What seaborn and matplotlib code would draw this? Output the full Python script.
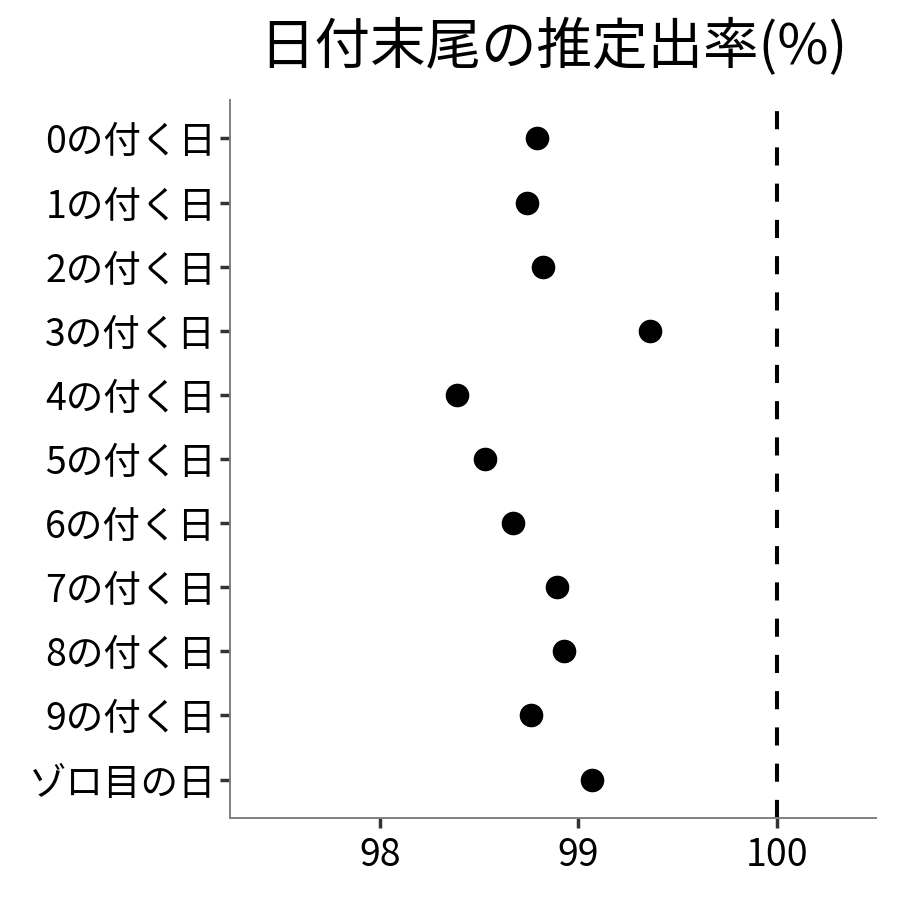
import matplotlib
matplotlib.use("Agg")
import matplotlib.pyplot as plt
import seaborn as sns
import pandas as pd

# data
labels = ["0の付く日", "1の付く日", "2の付く日", "3の付く日", "4の付く日",
          "5の付く日", "6の付く日", "7の付く日", "8の付く日", "9の付く日", "ゾロ目の日"]
rates = [98.79, 98.74, 98.82, 99.36, 98.39, 98.53, 98.67, 98.89, 98.93, 98.76, 99.07]
ticks = [98, 99, 100]

df = pd.DataFrame({"label": labels, "rate": rates})

sns.set_style("white")
plt.rcParams["font.family"] = ["Noto Sans CJK JP", "DejaVu Sans"]
plt.rcParams["text.color"] = "black"

fig = plt.figure(figsize=(9, 9), dpi=100)
ax = fig.add_axes([0.2556, 0.0911, 0.7178, 0.7978])

sns.stripplot(data=df, x="rate", y="label", order=labels, jitter=False,
              color="black", size=17, linewidth=0, ax=ax)

ax.axvline(100, color="black", lw=2.9, ls=(0, (4.5, 4.5)))

ax.set_xlim(97.245, 100.5)
ax.set_ylim(len(labels) - 0.4, -0.6)
ax.set_xticks(ticks)
ax.set_xticklabels([str(t) for t in ticks])
ax.set_xlabel("")
ax.set_ylabel("")
ax.set_title("日付末尾の推定出率(%)", fontsize=40, pad=26, color="black")

ax.tick_params(axis="both", labelsize=27, length=7, width=2.5,
               color="#333333", labelcolor="black", pad=3,
               bottom=True, left=True)
ax.tick_params(axis="x", pad=6)
for side in ["top", "right"]:
    ax.spines[side].set_visible(False)
for side in ["left", "bottom"]:
    ax.spines[side].set_color("#7f7f7f")
    ax.spines[side].set_linewidth(1.4)

fig.savefig("out.png", dpi=100)
